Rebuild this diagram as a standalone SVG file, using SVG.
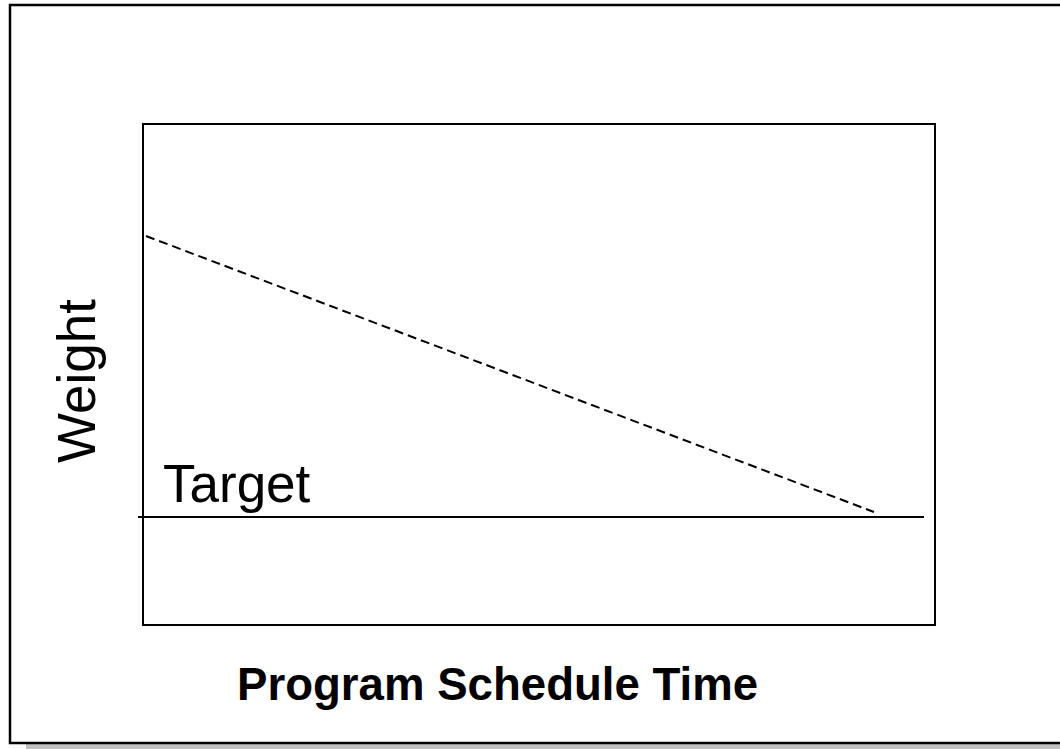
<svg xmlns="http://www.w3.org/2000/svg" width="1060" height="749" viewBox="0 0 1060 749">
  <style>
    .frame { fill: #ffffff; stroke: #000000; stroke-width: 2.5; }
    .plot { fill: none; stroke: #000000; stroke-width: 2; }
    .line { stroke: #000000; stroke-width: 2; fill: none; }
    .dash { stroke-dasharray: 9 5; }
    .lbl { font-family: "Liberation Sans", Arial, sans-serif; fill: #000000; }
  </style>
  <rect width="1060" height="749" fill="#ffffff"/>

  <!-- page frame with drop shadow -->
  <g id="frame">
    <rect x="26" y="744" width="1040" height="6" fill="#c0c0c0"/>
    <rect class="frame" x="10" y="5" width="1070" height="738"/>
  </g>

  <!-- chart area -->
  <g id="plot-area">
    <rect class="plot" x="143" y="124" width="792" height="501"/>
  </g>

  <g id="connectors">
    <line id="trend" class="line dash" x1="146" y1="236" x2="874" y2="512"/>
    <line id="target-line" class="line" x1="138" y1="517" x2="924" y2="517"/>
  </g>

  <g id="target-label">
    <text class="lbl" x="163" y="502" font-size="53">Target</text>
  </g>
  <g id="y-axis-label">
    <text class="lbl" transform="translate(95,463) rotate(-90)" font-size="53">Weight</text>
  </g>
  <g id="x-axis-label">
    <text class="lbl" x="237" y="700" font-size="45.6" font-weight="bold">Program Schedule Time</text>
  </g>
</svg>
